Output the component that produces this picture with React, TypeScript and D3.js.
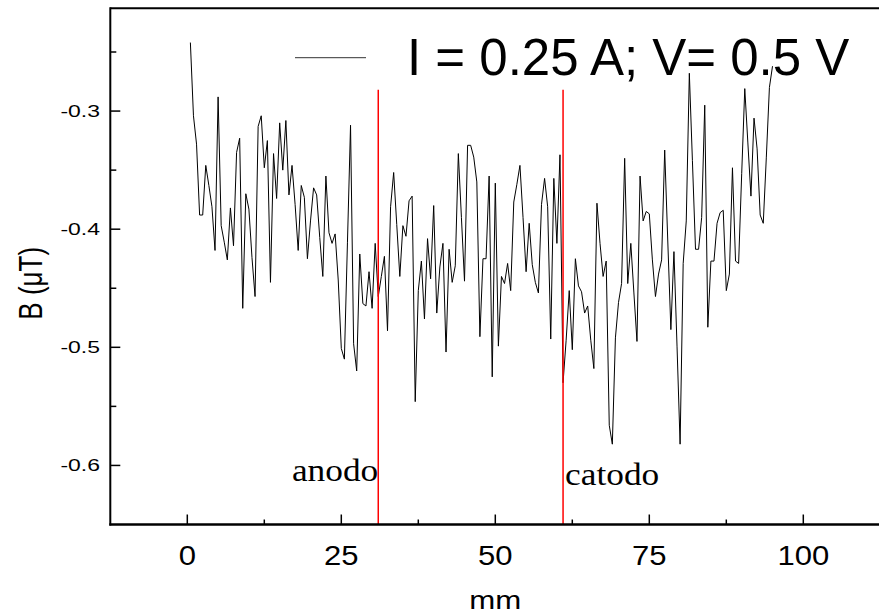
import React from 'react';
import * as d3 from 'd3';

// field along the tube, one reading every 0.5 mm starting at 0.5 mm
const X_START = 0.5;
const X_STEP = 0.5;
const bField = [
  -0.242, -0.304, -0.328, -0.388, -0.388, -0.346, -0.363, -0.381, -0.418, -0.288,
  -0.397, -0.411, -0.426, -0.382, -0.414, -0.335, -0.323, -0.467, -0.370, -0.383,
  -0.424, -0.457, -0.313, -0.304, -0.348, -0.325, -0.445, -0.336, -0.374, -0.310,
  -0.350, -0.308, -0.371, -0.346, -0.379, -0.418, -0.363, -0.373, -0.425, -0.393,
  -0.365, -0.371, -0.407, -0.440, -0.355, -0.403, -0.412, -0.404, -0.443, -0.501,
  -0.510, -0.411, -0.312, -0.497, -0.520, -0.421, -0.463, -0.465, -0.436, -0.467,
  -0.412, -0.457, -0.440, -0.423, -0.486, -0.381, -0.352, -0.396, -0.440, -0.397,
  -0.406, -0.376, -0.372, -0.546, -0.452, -0.427, -0.476, -0.408, -0.442, -0.380,
  -0.471, -0.432, -0.412, -0.504, -0.417, -0.445, -0.431, -0.336, -0.390, -0.444,
  -0.329, -0.329, -0.339, -0.360, -0.491, -0.425, -0.425, -0.355, -0.525, -0.361,
  -0.499, -0.440, -0.446, -0.429, -0.452, -0.377, -0.362, -0.346, -0.390, -0.436,
  -0.395, -0.430, -0.445, -0.454, -0.379, -0.357, -0.381, -0.493, -0.357, -0.412,
  -0.337, -0.530, -0.494, -0.452, -0.502, -0.425, -0.448, -0.453, -0.471, -0.465,
  -0.494, -0.518, -0.378, -0.412, -0.440, -0.427, -0.566, -0.582, -0.492, -0.462,
  -0.446, -0.340, -0.446, -0.412, -0.454, -0.495, -0.355, -0.393, -0.385, -0.387,
  -0.426, -0.457, -0.438, -0.426, -0.333, -0.410, -0.485, -0.419, -0.499, -0.582,
  -0.429, -0.393, -0.268, -0.342, -0.417, -0.417, -0.390, -0.295, -0.483, -0.427,
  -0.427, -0.395, -0.386, -0.384, -0.452, -0.438, -0.348, -0.427, -0.429, -0.353,
  -0.281, -0.327, -0.372, -0.306, -0.332, -0.388, -0.395, -0.339, -0.280, -0.262,
];

const xMajor = [0, 25, 50, 75, 100];
const xMinor = [12.5, 37.5, 62.5, 87.5];
const yMajor = [-0.3, -0.4, -0.5, -0.6];
const yMinor = [-0.25, -0.35, -0.45, -0.55];

const electrodeNames = ['anodo', 'catodo'];
const electrodePos = [31, 61];
const electrodeTop = -0.282;

const legendText = 'I = 0.25 A; V= 0.5 V';

const W = 879, H = 614;
const sans = '"Liberation Sans", Arial, sans-serif';
const serif = '"Liberation Serif", "Times New Roman", serif';

export default function App() {
  const left = 110.3, top = 8.3, bottom = 524.5;
  const x = d3.scaleLinear().domain([-12.5, 112.5]).range([left, left + 770]);
  const y = d3.scaleLinear().domain([-0.65, -0.213]).range([bottom, top]);

  const pts: [number, number][] = bField.map((b, i) => [X_START + i * X_STEP, b]);
  const line = d3.line<[number, number]>()
    .x(d => x(d[0]))
    .y(d => y(d[1]));

  return (
    <svg width={W} height={H} style={{ position: 'absolute', left: 0, top: 0, background: '#fff' }}>
      {/* data */}
      <path d={line(pts) || ''} fill="none" stroke="#000" strokeWidth={1} />

      {/* electrode markers */}
      {electrodePos.map((p, i) => (
        <line key={'e' + i} x1={x(p)} x2={x(p)} y1={y(electrodeTop)} y2={bottom}
          stroke="#ff0000" strokeWidth={1.5} />
      ))}
      <text transform={`translate(${x(electrodePos[0])},481) scale(1.14,1)`} textAnchor="end"
        fontFamily={serif} fontSize={31}>{electrodeNames[0]}</text>
      <text transform={`translate(${x(electrodePos[1]) + 2},485) scale(1.14,1)`} textAnchor="start"
        fontFamily={serif} fontSize={31}>{electrodeNames[1]}</text>

      {/* frame */}
      <line x1={left} x2={W} y1={top} y2={top} stroke="#000" strokeWidth={2} />
      <line x1={left} x2={left} y1={top - 1} y2={bottom + 1} stroke="#000" strokeWidth={2} />
      <line x1={left - 1} x2={W} y1={bottom} y2={bottom} stroke="#000" strokeWidth={2.5} />

      {/* x ticks */}
      {xMajor.map(t => (
        <g key={'xm' + t}>
          <line x1={x(t)} x2={x(t)} y1={bottom} y2={bottom - 10} stroke="#000" strokeWidth={1.5} />
          <text transform={`translate(${x(t)},565) scale(1.15,1)`} textAnchor="middle"
            fontFamily={sans} fontSize={27}>{t}</text>
        </g>
      ))}
      {xMinor.map(t => (
        <line key={'xn' + t} x1={x(t)} x2={x(t)} y1={bottom} y2={bottom - 5} stroke="#000" strokeWidth={1.5} />
      ))}
      <text transform={`translate(${x(50)},609) scale(1.2,1)`} textAnchor="middle"
        fontFamily={sans} fontSize={26}>mm</text>

      {/* y ticks */}
      {yMajor.map(t => (
        <g key={'ym' + t}>
          <line x1={left} x2={left + 10} y1={y(t)} y2={y(t)} stroke="#000" strokeWidth={1.5} />
          <text transform={`translate(100,${y(t) + 6}) scale(1.35,1)`} textAnchor="end"
            fontFamily={sans} fontSize={17}>{t.toFixed(1)}</text>
        </g>
      ))}
      {yMinor.map(t => (
        <line key={'yn' + t} x1={left} x2={left + 6} y1={y(t)} y2={y(t)} stroke="#000" strokeWidth={1.5} />
      ))}
      <text transform="translate(41.7,283.3) scale(1.25,1) rotate(-90)" textAnchor="middle"
        fontFamily={sans} fontSize={26}>B (μT)</text>

      {/* legend */}
      <line x1={295} x2={366} y1={57.7} y2={57.7} stroke="#333" strokeWidth={1} />
      <text x={407} y={75} fontFamily={sans} fontSize={51}>{legendText}</text>
    </svg>
  );
}
